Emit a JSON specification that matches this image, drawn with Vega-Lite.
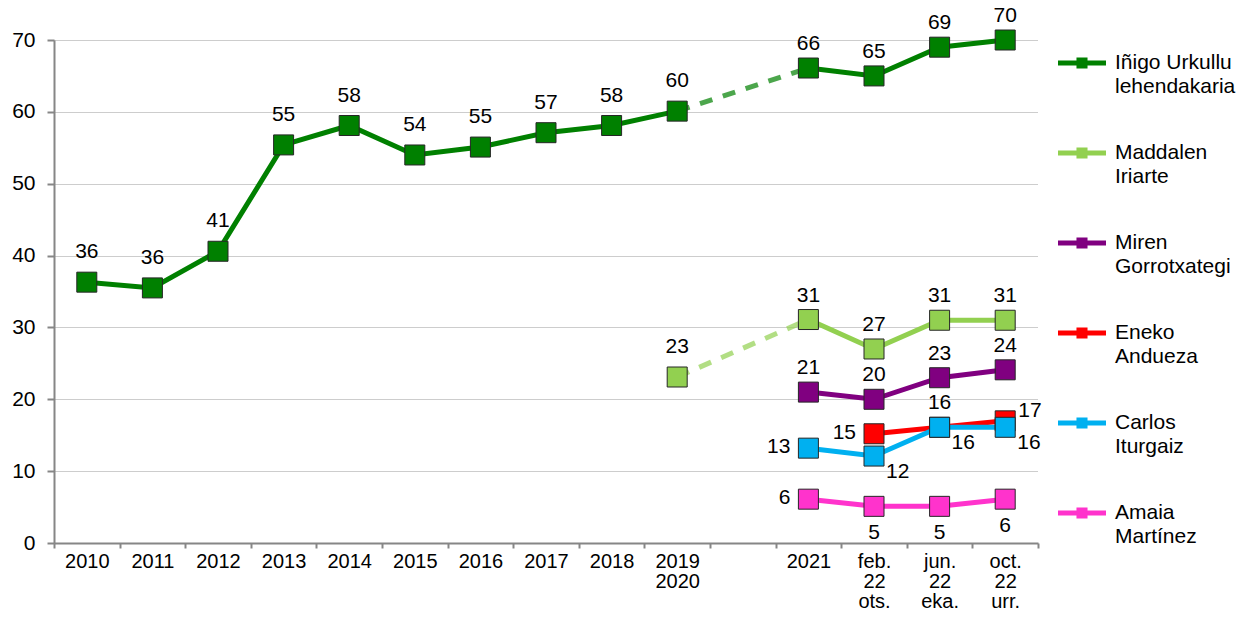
{
  "$schema": "https://vega.github.io/schema/vega-lite/v6.json",
  "width": 984,
  "height": 503,
  "autosize": {"type": "none"},
  "padding": {"left": 54, "top": 40, "right": 212, "bottom": 82},
  "background": "white",
  "config": {
    "font": "Liberation Sans",
    "view": {"stroke": null}
  },
  "data": {
    "values": [
      {"s": "Iñigo Urkullu lehendakaria", "t": "2010", "v": 36.3},
      {"s": "Iñigo Urkullu lehendakaria", "t": "2011", "v": 35.5},
      {"s": "Iñigo Urkullu lehendakaria", "t": "2012", "v": 40.6},
      {"s": "Iñigo Urkullu lehendakaria", "t": "2013", "v": 55.4},
      {"s": "Iñigo Urkullu lehendakaria", "t": "2014", "v": 58.1},
      {"s": "Iñigo Urkullu lehendakaria", "t": "2015", "v": 54},
      {"s": "Iñigo Urkullu lehendakaria", "t": "2016", "v": 55.1},
      {"s": "Iñigo Urkullu lehendakaria", "t": "2017", "v": 57.1},
      {"s": "Iñigo Urkullu lehendakaria", "t": "2018", "v": 58.1},
      {"s": "Iñigo Urkullu lehendakaria", "t": "2019 2020", "v": 60.1},
      {"s": "Iñigo Urkullu lehendakaria", "t": "2021", "v": 66.1},
      {"s": "Iñigo Urkullu lehendakaria", "t": "feb. 22 ots.", "v": 65},
      {"s": "Iñigo Urkullu lehendakaria", "t": "jun. 22 eka.", "v": 69},
      {"s": "Iñigo Urkullu lehendakaria", "t": "oct. 22 urr.", "v": 70},
      {"s": "Maddalen Iriarte", "t": "2019 2020", "v": 23.1},
      {"s": "Maddalen Iriarte", "t": "2021", "v": 31.1},
      {"s": "Maddalen Iriarte", "t": "feb. 22 ots.", "v": 27},
      {"s": "Maddalen Iriarte", "t": "jun. 22 eka.", "v": 31},
      {"s": "Maddalen Iriarte", "t": "oct. 22 urr.", "v": 31},
      {"s": "Miren Gorrotxategi", "t": "2021", "v": 21},
      {"s": "Miren Gorrotxategi", "t": "feb. 22 ots.", "v": 20},
      {"s": "Miren Gorrotxategi", "t": "jun. 22 eka.", "v": 23},
      {"s": "Miren Gorrotxategi", "t": "oct. 22 urr.", "v": 24.1},
      {"s": "Eneko Andueza", "t": "feb. 22 ots.", "v": 15.2},
      {"s": "Eneko Andueza", "t": "jun. 22 eka.", "v": 16.1},
      {"s": "Eneko Andueza", "t": "oct. 22 urr.", "v": 17},
      {"s": "Carlos Iturgaiz", "t": "2021", "v": 13.2},
      {"s": "Carlos Iturgaiz", "t": "feb. 22 ots.", "v": 12.1},
      {"s": "Carlos Iturgaiz", "t": "jun. 22 eka.", "v": 16.1},
      {"s": "Carlos Iturgaiz", "t": "oct. 22 urr.", "v": 16.1},
      {"s": "Amaia Martínez", "t": "2021", "v": 6.1},
      {"s": "Amaia Martínez", "t": "feb. 22 ots.", "v": 5.1},
      {"s": "Amaia Martínez", "t": "jun. 22 eka.", "v": 5.1},
      {"s": "Amaia Martínez", "t": "oct. 22 urr.", "v": 6.1}
    ]
  },
  "encoding": {
    "x": {
      "field": "t",
      "type": "ordinal",
      "scale": {
        "domain": ["2010", "2011", "2012", "2013", "2014", "2015", "2016", "2017", "2018", "2019 2020", "gap", "2021", "feb. 22 ots.", "jun. 22 eka.", "oct. 22 urr."],
        "paddingInner": 0,
        "paddingOuter": 0
      },
      "axis": {
        "title": null,
        "labelAngle": 0,
        "labelExpr": "(isValid(datum.value) && datum.value != 'gap') ? split(datum.value, ' ') : ''",
        "labelFontSize": 20,
        "labelLineHeight": 20,
        "labelColor": "#000000",
        "labelPadding": 3,
        "labelBaseline": "top",
        "tickBand": "extent",
        "tickSize": 5,
        "tickColor": "#868686",
        "tickWidth": 2,
        "domainColor": "#868686",
        "domainWidth": 2,
        "grid": false
      }
    },
    "y": {
      "field": "v",
      "type": "quantitative",
      "scale": {"domain": [0, 70], "nice": false, "zero": true},
      "axis": {
        "title": null,
        "values": [0, 10, 20, 30, 40, 50, 60, 70],
        "labelFontSize": 21,
        "labelColor": "#000000",
        "labelPadding": 12,
        "tickSize": 7,
        "tickColor": "#868686",
        "tickWidth": 2,
        "domainColor": "#868686",
        "domainWidth": 2,
        "grid": true,
        "gridColor": "#9A9A9A",
        "gridWidth": 1,
        "gridDash": [1, 1]
      }
    },
    "color": {
      "field": "s",
      "type": "nominal",
      "scale": {
        "domain": ["Iñigo Urkullu lehendakaria", "Maddalen Iriarte", "Miren Gorrotxategi", "Eneko Andueza", "Carlos Iturgaiz", "Amaia Martínez"],
        "range": ["#008000", "#92D050", "#800080", "#FF0000", "#00B0F0", "#FF33CC"]
      },
      "legend": {
        "title": null,
        "orient": "none",
        "legendX": 1004,
        "legendY": -1,
        "padding": 0,
        "rowPadding": 32,
        "labelOffset": 9,
        "labelFontSize": 21,
        "labelColor": "#000000",
        "labelLimit": 300,
        "labelExpr": "datum.value == 'Iñigo Urkullu lehendakaria' ? ['Iñigo Urkullu', 'lehendakaria'] : split(datum.value, ' ')",
        "symbolType": "M-1,-0.104H1V0.104H-1Z M-0.23,-0.23H0.23V0.23H-0.23Z",
        "symbolSize": 2304,
        "symbolStrokeWidth": 0,
        "encode": {
          "symbols": {"update": {"fill": {"scale": "color", "field": "value"}, "strokeWidth": {"value": 0}, "opacity": {"value": 1}}},
          "labels": {"update": {"lineHeight": {"value": 24}}}
        }
      }
    }
  },
  "layer": [
    {
      "transform": [
        {"filter": {"field": "s", "oneOf": ["Iñigo Urkullu lehendakaria", "Maddalen Iriarte"]}},
        {"filter": {"field": "t", "oneOf": ["2019 2020", "2021"]}}
      ],
      "mark": {"type": "line", "strokeWidth": 5, "strokeDash": [13, 11], "opacity": 0.7}
    },
    {
      "transform": [
        {"filter": {"field": "t", "oneOf": ["2010", "2011", "2012", "2013", "2014", "2015", "2016", "2017", "2018", "2019 2020"]}}
      ],
      "mark": {"type": "line", "strokeWidth": 5}
    },
    {
      "transform": [
        {"filter": {"field": "t", "oneOf": ["2021", "feb. 22 ots.", "jun. 22 eka.", "oct. 22 urr."]}}
      ],
      "mark": {"type": "line", "strokeWidth": 5}
    },
    {
      "mark": {"type": "point", "shape": "square", "size": 400, "filled": true, "opacity": 1, "stroke": "#262626", "strokeWidth": 1}
    },
    {
      "transform": [
        {"filter": {"field": "t", "oneOf": ["2010", "2011", "2012", "2013", "2014", "2015", "2016", "2017", "2018", "2019 2020"]}}
      ],
      "mark": {"type": "text", "fontSize": 21, "dy": -30, "baseline": "middle", "align": "center"},
      "encoding": {"text": {"field": "v", "format": ".0f"}, "color": {"value": "#000000"}}
    },
    {
      "transform": [
        {"filter": "indexof(['2021', 'feb. 22 ots.', 'jun. 22 eka.', 'oct. 22 urr.'], datum.t) >= 0 && (indexof(['Iñigo Urkullu lehendakaria', 'Maddalen Iriarte', 'Miren Gorrotxategi'], datum.s) >= 0 || (datum.s == 'Eneko Andueza' && datum.t == 'jun. 22 eka.'))"}
      ],
      "mark": {"type": "text", "fontSize": 21, "dy": -24, "baseline": "middle", "align": "center"},
      "encoding": {"text": {"field": "v", "format": ".0f"}, "color": {"value": "#000000"}}
    },
    {
      "transform": [
        {"filter": "(datum.t == '2021' && (datum.s == 'Carlos Iturgaiz' || datum.s == 'Amaia Martínez')) || (datum.s == 'Eneko Andueza' && datum.t == 'feb. 22 ots.')"}
      ],
      "mark": {"type": "text", "fontSize": 21, "dx": -18, "dy": -1, "baseline": "middle", "align": "right"},
      "encoding": {"text": {"field": "v", "format": ".0f"}, "color": {"value": "#000000"}}
    },
    {
      "transform": [
        {"filter": "datum.s == 'Carlos Iturgaiz' && datum.t != '2021'"}
      ],
      "mark": {"type": "text", "fontSize": 21, "dx": 12, "dy": 16, "baseline": "middle", "align": "left"},
      "encoding": {"text": {"field": "v", "format": ".0f"}, "color": {"value": "#000000"}}
    },
    {
      "transform": [
        {"filter": "datum.s == 'Amaia Martínez' && datum.t != '2021'"}
      ],
      "mark": {"type": "text", "fontSize": 21, "dy": 27, "baseline": "middle", "align": "center"},
      "encoding": {"text": {"field": "v", "format": ".0f"}, "color": {"value": "#000000"}}
    },
    {
      "transform": [
        {"filter": "datum.s == 'Eneko Andueza' && datum.t == 'oct. 22 urr.'"}
      ],
      "mark": {"type": "text", "fontSize": 21, "dx": 13, "dy": -10, "baseline": "middle", "align": "left"},
      "encoding": {"text": {"field": "v", "format": ".0f"}, "color": {"value": "#000000"}}
    }
  ]
}
